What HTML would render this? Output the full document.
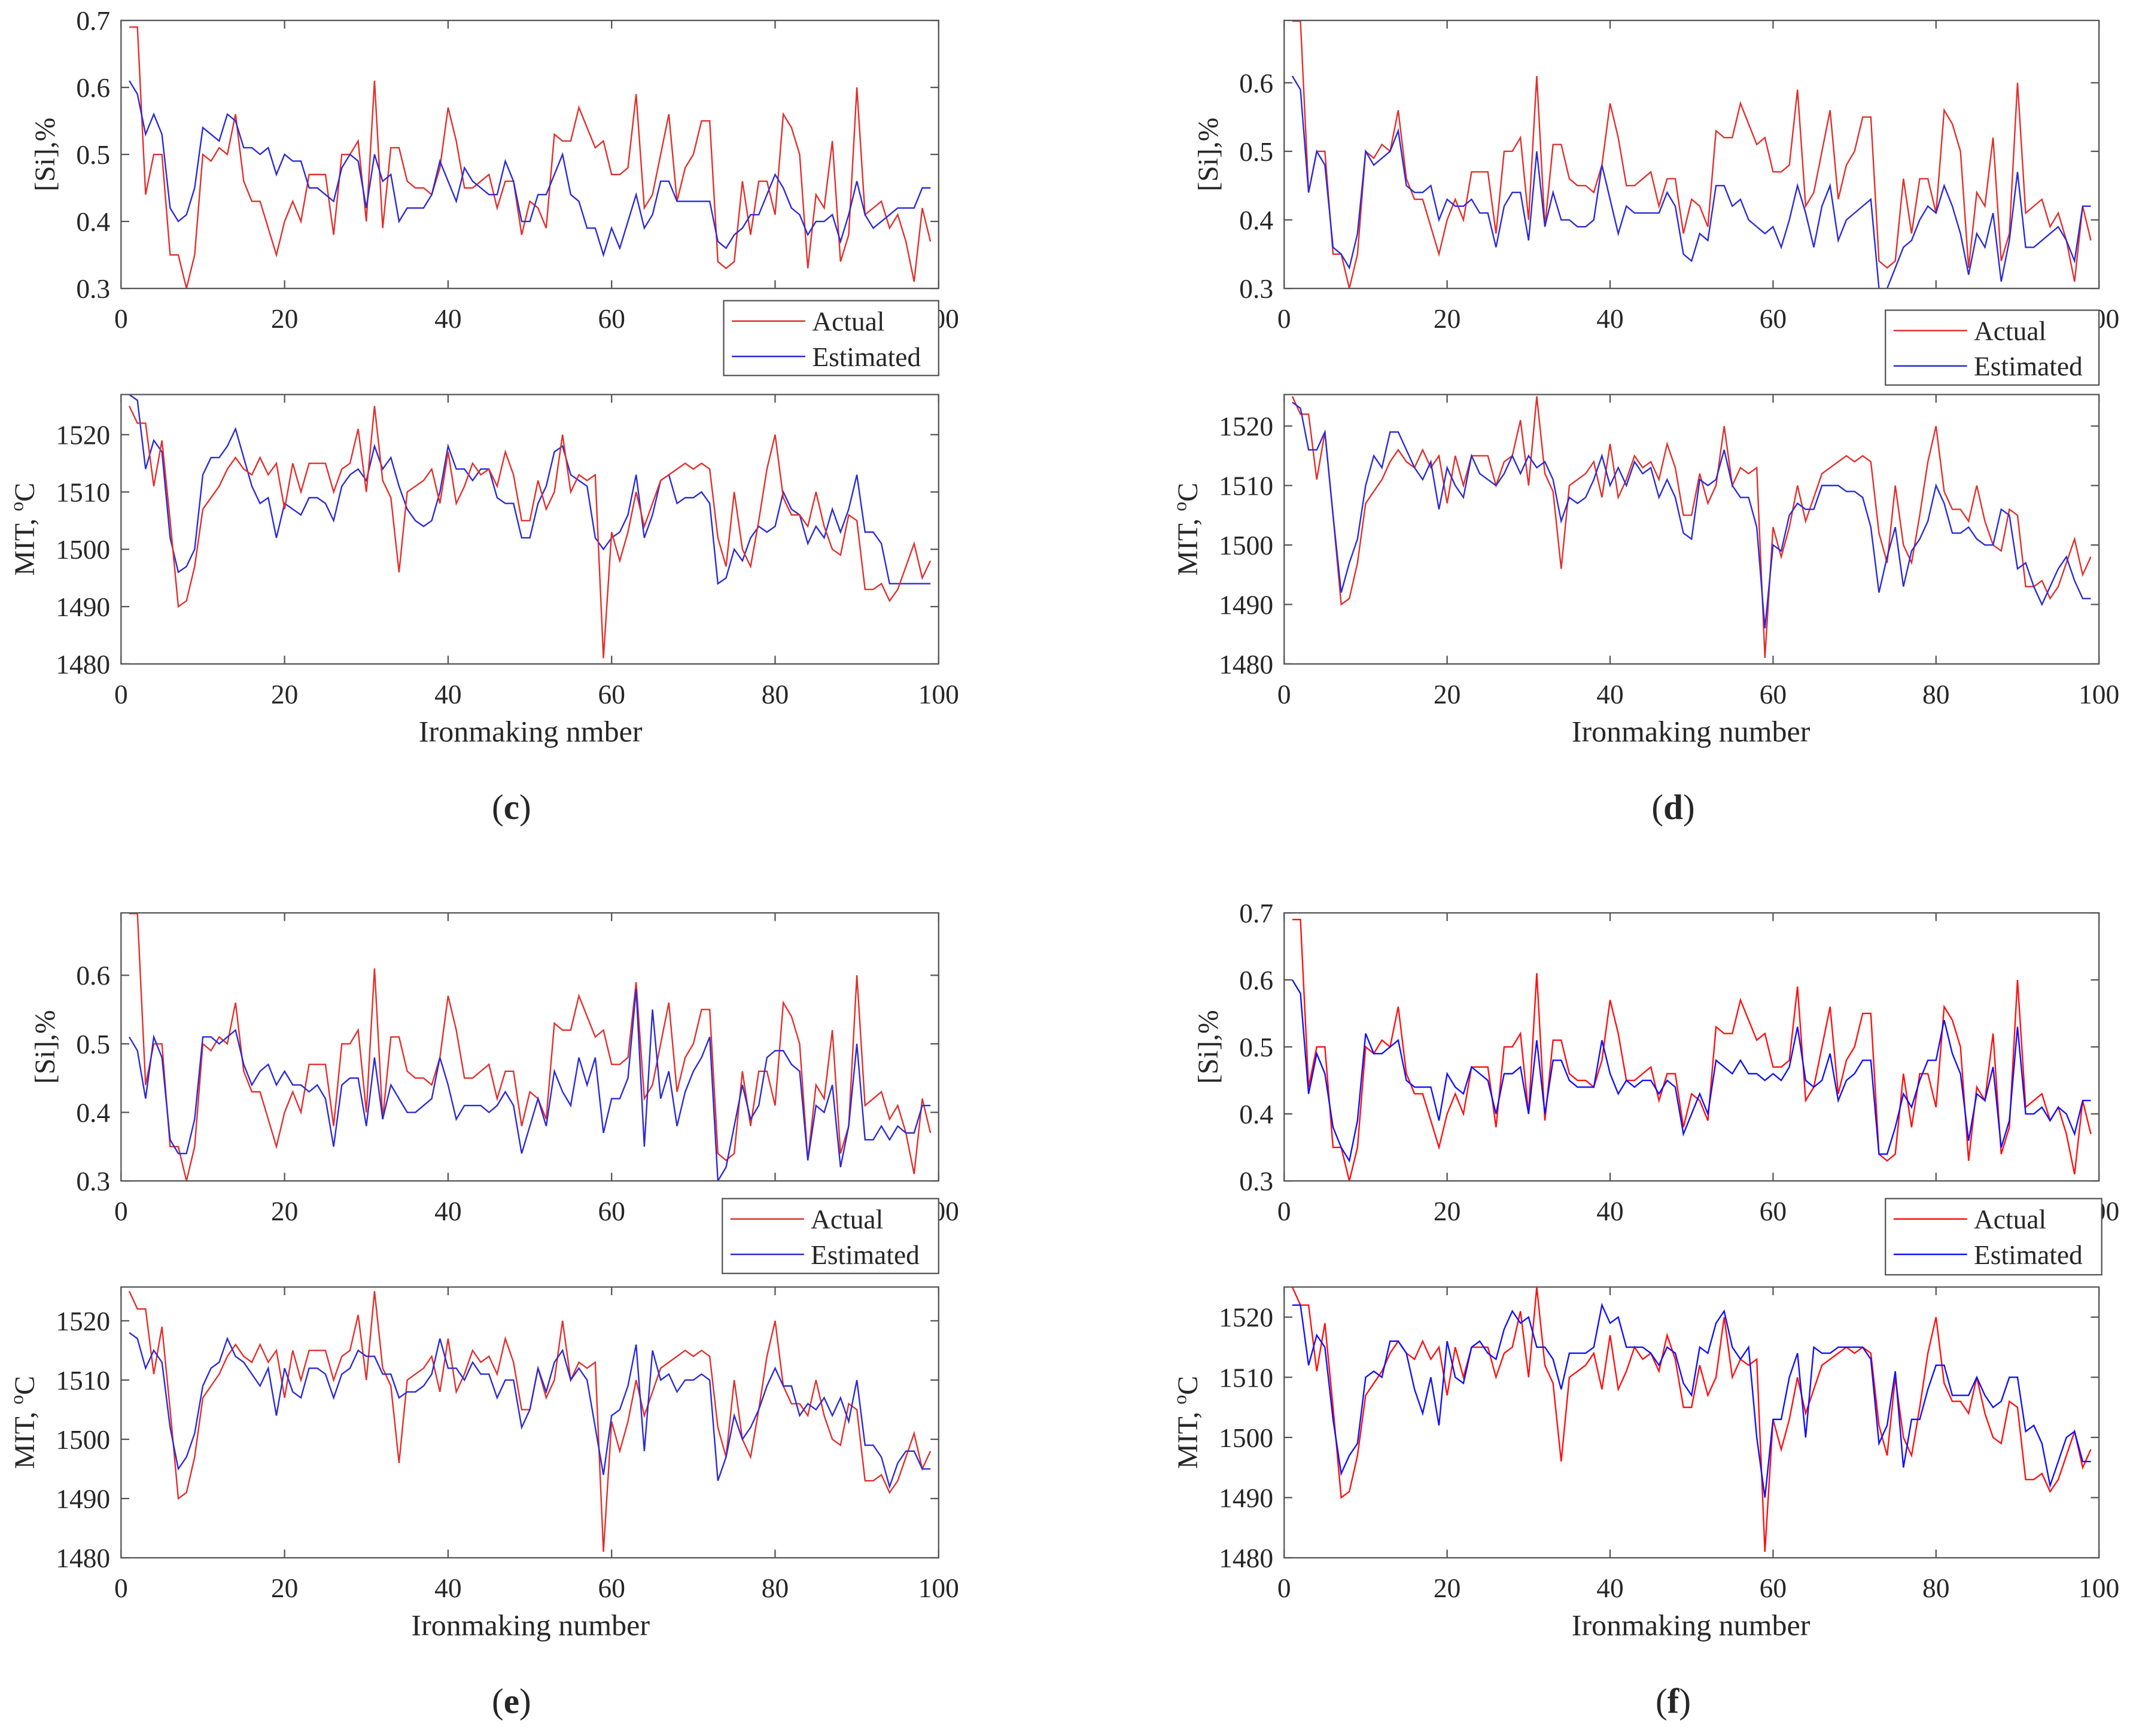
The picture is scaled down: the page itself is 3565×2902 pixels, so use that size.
<!DOCTYPE html>
<html><head><meta charset="utf-8"><style>
html,body{margin:0;padding:0;background:#fff;}
svg{display:block;}
text{font-family:"Liberation Serif",serif;fill:#262626;}
</style></head><body>
<svg id="fig" width="3565" height="2902" viewBox="0 0 1568 1276" preserveAspectRatio="none" xmlns="http://www.w3.org/2000/svg"></svg>
<script>
const xTicks=[0,20,40,60,80,100];
const siTicks7=[0.3,0.4,0.5,0.6,0.7];
const siTicks6=[0.3,0.4,0.5,0.6];
const mitTicks=[1480,1490,1500,1510,1520];
const actualSi=[0.69,0.69,0.44,0.50,0.50,0.35,0.35,0.30,0.35,0.50,0.49,0.51,0.50,0.56,0.46,0.43,0.43,0.39,0.35,0.40,0.43,0.40,0.47,0.47,0.47,0.38,0.50,0.50,0.52,0.40,0.61,0.39,0.51,0.51,0.46,0.45,0.45,0.44,0.48,0.57,0.52,0.45,0.45,0.46,0.47,0.42,0.46,0.46,0.38,0.43,0.42,0.39,0.53,0.52,0.52,0.57,0.54,0.51,0.52,0.47,0.47,0.48,0.59,0.42,0.44,0.50,0.56,0.43,0.48,0.50,0.55,0.55,0.34,0.33,0.34,0.46,0.38,0.46,0.46,0.41,0.56,0.54,0.50,0.33,0.44,0.42,0.52,0.34,0.38,0.60,0.41,0.42,0.43,0.39,0.41,0.37,0.31,0.42,0.37];
const actualMit=[1525,1522,1522,1511,1519,1505,1490,1491,1497,1507,1509,1511,1514,1516,1514,1513,1516,1513,1515,1507,1515,1510,1515,1515,1515,1510,1514,1515,1521,1510,1525,1512,1509,1496,1510,1511,1512,1514,1508,1517,1508,1511,1515,1513,1514,1511,1517,1513,1505,1505,1512,1507,1510,1520,1510,1513,1512,1513,1481,1503,1498,1503,1510,1504,1508,1512,1513,1514,1515,1514,1515,1514,1502,1497,1510,1500,1497,1505,1514,1520,1509,1506,1506,1504,1510,1504,1500,1499,1506,1505,1493,1493,1494,1491,1493,1497,1501,1495,1498];
const estSiC=[0.61,0.59,0.53,0.56,0.53,0.42,0.40,0.41,0.45,0.54,0.53,0.52,0.56,0.55,0.51,0.51,0.50,0.51,0.47,0.50,0.49,0.49,0.45,0.45,0.44,0.43,0.48,0.50,0.49,0.42,0.50,0.46,0.47,0.40,0.42,0.42,0.42,0.44,0.49,0.46,0.43,0.48,0.46,0.45,0.44,0.44,0.49,0.46,0.40,0.40,0.44,0.44,0.47,0.50,0.44,0.43,0.39,0.39,0.35,0.39,0.36,0.40,0.44,0.39,0.41,0.46,0.46,0.43,0.43,0.43,0.43,0.43,0.37,0.36,0.38,0.39,0.41,0.41,0.44,0.47,0.45,0.42,0.41,0.38,0.40,0.40,0.41,0.37,0.41,0.46,0.41,0.39,0.40,0.41,0.42,0.42,0.42,0.45,0.45];
const estMitC=[1527,1526,1514,1519,1517,1502,1496,1497,1500,1513,1516,1516,1518,1521,1516,1511,1508,1509,1502,1508,1507,1506,1509,1509,1508,1505,1511,1513,1514,1512,1518,1514,1516,1511,1507,1505,1504,1505,1510,1518,1514,1514,1512,1514,1514,1509,1508,1508,1502,1502,1508,1511,1517,1518,1513,1512,1511,1502,1500,1502,1503,1506,1513,1502,1506,1512,1513,1508,1509,1509,1510,1508,1494,1495,1500,1498,1502,1504,1503,1504,1510,1507,1506,1501,1504,1502,1507,1503,1507,1513,1503,1503,1501,1494,1494,1494,1494,1494,1494];
const estSiD=[0.61,0.59,0.44,0.50,0.48,0.36,0.35,0.33,0.38,0.50,0.48,0.49,0.50,0.53,0.45,0.44,0.44,0.45,0.40,0.43,0.42,0.42,0.43,0.41,0.41,0.36,0.42,0.44,0.44,0.37,0.50,0.39,0.44,0.40,0.40,0.39,0.39,0.40,0.48,0.43,0.38,0.42,0.41,0.41,0.41,0.41,0.44,0.42,0.35,0.34,0.38,0.37,0.45,0.45,0.42,0.43,0.40,0.39,0.38,0.39,0.36,0.40,0.45,0.41,0.36,0.42,0.45,0.37,0.40,0.41,0.42,0.43,0.30,0.30,0.33,0.36,0.37,0.40,0.42,0.41,0.45,0.42,0.38,0.32,0.38,0.36,0.41,0.31,0.37,0.47,0.36,0.36,0.37,0.38,0.39,0.37,0.34,0.42,0.42];
const estMitD=[1524,1523,1516,1516,1519,1505,1492,1497,1501,1510,1515,1513,1519,1519,1516,1513,1511,1514,1506,1513,1510,1508,1515,1512,1511,1510,1512,1515,1512,1515,1513,1514,1511,1504,1508,1507,1508,1511,1515,1510,1513,1510,1514,1512,1513,1508,1511,1508,1502,1501,1511,1510,1511,1516,1510,1508,1508,1503,1486,1500,1499,1505,1507,1506,1506,1510,1510,1510,1509,1509,1508,1503,1492,1498,1503,1493,1499,1501,1504,1510,1507,1502,1502,1503,1501,1500,1500,1506,1505,1496,1497,1493,1490,1493,1496,1498,1494,1491,1491];
const estSiE=[0.51,0.49,0.42,0.51,0.48,0.36,0.34,0.34,0.39,0.51,0.51,0.50,0.51,0.52,0.47,0.44,0.46,0.47,0.44,0.46,0.44,0.44,0.43,0.44,0.42,0.35,0.44,0.45,0.45,0.38,0.48,0.39,0.44,0.42,0.40,0.40,0.41,0.42,0.48,0.44,0.39,0.41,0.41,0.41,0.40,0.41,0.43,0.41,0.34,0.38,0.42,0.38,0.46,0.43,0.41,0.48,0.44,0.48,0.37,0.42,0.42,0.45,0.58,0.35,0.55,0.42,0.46,0.38,0.43,0.46,0.48,0.51,0.30,0.32,0.38,0.44,0.39,0.41,0.48,0.49,0.49,0.47,0.46,0.33,0.41,0.40,0.44,0.32,0.38,0.50,0.36,0.36,0.38,0.36,0.38,0.37,0.37,0.41,0.41];
const estMitE=[1518,1517,1512,1515,1513,1502,1495,1497,1501,1509,1512,1513,1517,1514,1513,1511,1509,1512,1504,1512,1508,1507,1512,1512,1511,1507,1511,1512,1515,1514,1514,1511,1511,1507,1508,1508,1509,1511,1517,1512,1512,1510,1513,1511,1511,1507,1510,1510,1502,1505,1512,1508,1513,1515,1510,1512,1510,1502,1494,1504,1505,1509,1516,1498,1515,1510,1511,1508,1510,1510,1511,1510,1493,1497,1504,1500,1502,1505,1509,1512,1509,1509,1504,1506,1505,1507,1504,1507,1503,1510,1499,1499,1497,1492,1496,1498,1498,1495,1495];
const estSiF=[0.60,0.58,0.43,0.49,0.46,0.38,0.35,0.33,0.39,0.52,0.49,0.49,0.50,0.51,0.45,0.44,0.44,0.44,0.39,0.46,0.44,0.43,0.47,0.46,0.45,0.40,0.46,0.46,0.47,0.40,0.51,0.40,0.48,0.48,0.45,0.44,0.44,0.44,0.51,0.46,0.43,0.45,0.44,0.45,0.45,0.43,0.45,0.44,0.37,0.40,0.43,0.40,0.48,0.47,0.46,0.48,0.46,0.46,0.45,0.46,0.45,0.47,0.53,0.45,0.44,0.45,0.49,0.42,0.45,0.46,0.48,0.48,0.34,0.34,0.38,0.43,0.41,0.45,0.48,0.48,0.54,0.49,0.46,0.36,0.43,0.42,0.47,0.35,0.39,0.53,0.40,0.40,0.41,0.39,0.41,0.40,0.37,0.42,0.42];
const estMitF=[1522,1522,1512,1517,1515,1503,1494,1497,1499,1510,1511,1510,1516,1516,1514,1508,1504,1510,1502,1516,1510,1509,1515,1516,1514,1513,1518,1521,1519,1520,1515,1515,1513,1508,1514,1514,1514,1515,1522,1519,1520,1515,1515,1515,1514,1512,1515,1514,1509,1507,1515,1514,1519,1521,1515,1513,1515,1500,1490,1503,1503,1510,1514,1500,1515,1514,1514,1515,1515,1515,1515,1513,1499,1502,1511,1495,1503,1503,1508,1512,1512,1507,1507,1507,1510,1507,1505,1506,1510,1510,1501,1502,1499,1492,1496,1500,1501,1496,1496];

const NS='http://www.w3.org/2000/svg';
const svg=document.getElementById('fig');
function el(tag,attrs,parent){const e=document.createElementNS(NS,tag);for(const k in attrs)e.setAttribute(k,attrs[k]);(parent||svg).appendChild(e);return e;}

function drawAxes(cfg){
  const g=el('g',{});
  
  
  const {x0,x1,y0,y1,ymin,ymax}=cfg;
  const sx=v=>x0+(v-0)/(100-0)*(x1-x0);
  const sy=v=>y1-(v-ymin)/(ymax-ymin)*(y1-y0);
  // clip
  const cid='clip'+cfg.name;
  const cp=el('clipPath',{id:cid},g);el('rect',{x:x0,y:y0,width:x1-x0,height:y1-y0},cp);
  // series
  const series=[{data:cfg.actual,color:cfg.red,name:'actual-line'},{data:cfg.est,color:cfg.blue,name:'estimated-line'}];
  const order=cfg.blueFirst?[series[1],series[0]]:series;
  for(const s of order){
    const pts=s.data.map((v,i)=>sx(i+1).toFixed(2)+','+sy(v).toFixed(2)).join(' ');
    const pl=el('polyline',{points:pts,fill:'none',stroke:s.color,'stroke-width':1.05,'stroke-linejoin':'miter','clip-path':'url(#'+cid+')'},g);
    
    
  }
  // box
  const box=el('rect',{x:x0,y:y0,width:x1-x0,height:y1-y0,fill:'none',stroke:'#555','stroke-width':1},g);
  
  
  // x ticks
  for(const t of xTicks){
    const x=sx(t);
    el('line',{x1:x,y1:y1,x2:x,y2:y1-6,stroke:'#555','stroke-width':1},g);
    el('line',{x1:x,y1:y0,x2:x,y2:y0+6,stroke:'#555','stroke-width':1},g);
    const tx=el('text',{x:x,y:y1+29,'text-anchor':'middle','font-size':20},g);
    tx.textContent=t;
    
    
  }
  for(const t of cfg.yTicks){
    const y=sy(t);
    el('line',{x1:x0,y1:y,x2:x0+6,y2:y,stroke:'#555','stroke-width':1},g);
    el('line',{x1:x1,y1:y,x2:x1-6,y2:y,stroke:'#555','stroke-width':1},g);
    const ty=el('text',{x:x0-8,y:y+7,'text-anchor':'end','font-size':20},g);
    ty.textContent=cfg.fmt(t);
    
    
  }
  // y label
  const yl=el('text',{x:0,y:0,'text-anchor':'middle','font-size':21,transform:'translate('+cfg.ylx+','+((y0+y1)/2)+') rotate(-90)'},g);
  
  
  if(cfg.mit){
    yl.appendChild(document.createTextNode('MIT, '));
    const sp=el('tspan',{'font-size':14,dy:-8},yl);sp.textContent='o';
    const sp2=el('tspan',{dy:8},yl);sp2.textContent='C';
  } else yl.textContent='[Si],%';
  // legend
  if(cfg.legend){
    const L=cfg.legend;
    const lg=el('g',{},g);
    
    
    el('rect',{x:L.x,y:L.y,width:L.w,height:L.h,fill:'#fff',stroke:'#555','stroke-width':1},lg);
    const rows=[['Actual',cfg.red],['Estimated',cfg.blue]];
    rows.forEach((r,i)=>{
      const yy=L.y+15+i*26;
      el('line',{x1:L.x+6,y1:yy,x2:L.x+60,y2:yy,stroke:r[1],'stroke-width':1.1},lg);
      const t=el('text',{x:L.x+65,y:yy+7,'font-size':20},lg);t.textContent=r[0];
      
      
    });
  }
}
const f1=v=>v.toFixed(1), f0=v=>String(v);
const R1='#e0302c',B1='#2a2ad8',R2='#ff1010',B2='#1010ff';
// c
drawAxes({name:'c-si',x0:89,x1:690,y0:15,y1:212,ymin:0.3,ymax:0.7,yTicks:siTicks7,fmt:f1,actual:actualSi,est:estSiC,red:R1,blue:B1,ylx:40,legend:{x:532,y:221,w:158,h:55}});
drawAxes({name:'c-mit',x0:89,x1:690,y0:290,y1:488,ymin:1480,ymax:1527,yTicks:mitTicks,fmt:f0,actual:actualMit,est:estMitC,red:R1,blue:B1,ylx:25,mit:true,blueFirst:true});
// d
drawAxes({name:'d-si',x0:944,x1:1543,y0:15,y1:212,ymin:0.3,ymax:0.691,yTicks:siTicks6,fmt:f1,actual:actualSi,est:estSiD,red:R1,blue:B1,ylx:895,legend:{x:1386,y:228,w:157,h:55}});
drawAxes({name:'d-mit',x0:944,x1:1543,y0:290,y1:488,ymin:1480,ymax:1525.3,yTicks:mitTicks,fmt:f0,actual:actualMit,est:estMitD,red:R1,blue:B1,ylx:880,mit:true});
// e
drawAxes({name:'e-si',x0:89,x1:690,y0:671,y1:868,ymin:0.3,ymax:0.691,yTicks:siTicks6,fmt:f1,actual:actualSi,est:estSiE,red:R1,blue:B1,ylx:40,legend:{x:531,y:881,w:159,h:55}});
drawAxes({name:'e-mit',x0:89,x1:690,y0:946,y1:1145,ymin:1480,ymax:1525.7,yTicks:mitTicks,fmt:f0,actual:actualMit,est:estMitE,red:R1,blue:B1,ylx:25,mit:true});
// f
drawAxes({name:'f-si',x0:944,x1:1543,y0:671,y1:868,ymin:0.3,ymax:0.7,yTicks:siTicks7,fmt:f1,actual:actualSi,est:estSiF,red:R2,blue:B2,ylx:895,legend:{x:1386,y:881,w:159,h:56}});
drawAxes({name:'f-mit',x0:944,x1:1543,y0:946,y1:1145,ymin:1480,ymax:1525,yTicks:mitTicks,fmt:f0,actual:actualMit,est:estMitF,red:R2,blue:B2,ylx:880,mit:true});
// titles & captions
const titles=[[390,545,'Ironmaking nmber'],[1243,545,'Ironmaking number'],[390,1202,'Ironmaking number'],[1243,1202,'Ironmaking number']];
for(const t of titles){
  const e=el('text',{x:t[0],y:t[1],'text-anchor':'middle','font-size':22});
  e.textContent=t[2];
  
  
}
const caps=[[376,602,'c'],[1230,602,'d'],[376,1259,'e'],[1230,1259,'f']];
for(const c of caps){
  const e=el('text',{x:c[0],y:c[1],'text-anchor':'middle','font-size':26});
  e.appendChild(document.createTextNode('('));
  const b=el('tspan',{'font-weight':'bold'},e);b.textContent=c[2];
  e.appendChild(document.createTextNode(')'));
  
  
}
</script>
</body></html>
